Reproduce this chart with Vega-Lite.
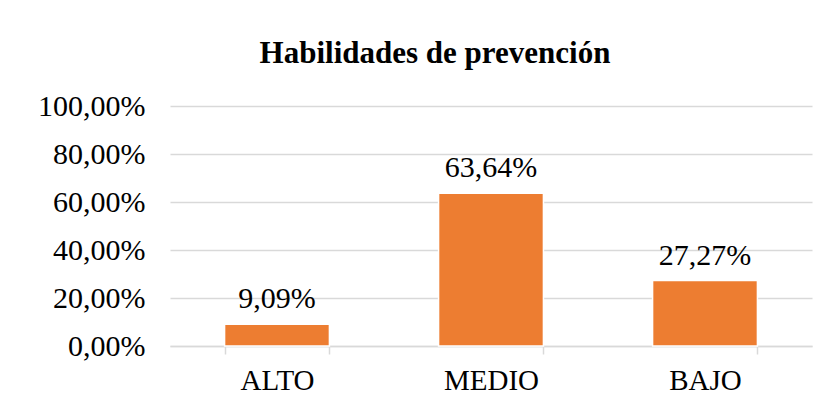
{
  "$schema": "https://vega.github.io/schema/vega-lite/v6.json",
  "width": 642,
  "height": 240,
  "autosize": {"type": "none"},
  "padding": {"left": 170, "top": 106, "right": 15, "bottom": 59},
  "background": "white",
  "title": {
    "text": "Habilidades de prevención",
    "font": "Liberation Serif",
    "fontSize": 31,
    "fontWeight": "bold",
    "color": "#000000",
    "anchor": "middle",
    "frame": "group",
    "dx": -56,
    "baseline": "alphabetic",
    "offset": -3
  },
  "data": {
    "values": [
      {"nivel": "ALTO", "pct": 0.0909},
      {"nivel": "MEDIO", "pct": 0.6364},
      {"nivel": "BAJO", "pct": 0.2727}
    ]
  },
  "encoding": {
    "x": {
      "field": "nivel",
      "type": "nominal",
      "sort": null,
      "title": null,
      "scale": {"paddingInner": 0.51, "paddingOuter": 0.255},
      "axis": {
        "labelAngle": 0,
        "labelFont": "Liberation Serif",
        "labelFontSize": 29,
        "labelColor": "#000000",
        "labelPadding": 12,
        "domainColor": "#d9d9d9",
        "domainWidth": 1.5,
        "tickColor": "#d9d9d9",
        "tickWidth": 1.5,
        "tickSize": 8,
        "tickBand": "extent",
        "grid": false
      }
    },
    "y": {
      "field": "pct",
      "type": "quantitative",
      "title": null,
      "scale": {"domain": [0, 1]},
      "axis": {
        "values": [0, 0.2, 0.4, 0.6, 0.8, 1],
        "format": ".2%",
        "labelFont": "Liberation Serif",
        "labelFontSize": 30,
        "labelColor": "#000000",
        "labelPadding": 25,
        "domain": false,
        "ticks": false,
        "gridColor": "#d9d9d9",
        "gridWidth": 1.5
      }
    }
  },
  "layer": [
    {
      "mark": {"type": "bar", "color": "#ED7D31", "stroke": "white", "strokeWidth": 1.5}
    },
    {
      "mark": {
        "type": "text",
        "font": "Liberation Serif",
        "fontSize": 30,
        "color": "#000000",
        "baseline": "alphabetic",
        "dy": -16
      },
      "encoding": {
        "text": {"field": "pct", "type": "quantitative", "format": ".2%"}
      }
    }
  ],
  "config": {
    "view": {"stroke": null},
    "locale": {
      "number": {"decimal": ",", "thousands": ".", "grouping": [3], "currency": ["", " €"]}
    }
  }
}
